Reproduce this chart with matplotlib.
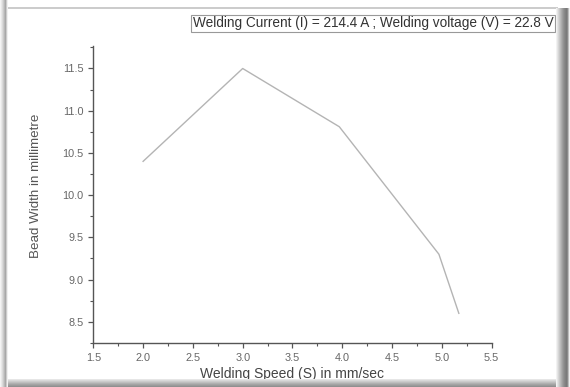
import numpy as np
import matplotlib.pyplot as plt
from matplotlib.patches import Rectangle
from matplotlib.ticker import MultipleLocator

# data
speed = [2.0, 3.0, 3.97, 4.97, 5.17]
bead_width = [10.4, 11.5, 10.81, 9.3, 8.6]
x_ticks = [1.5, 2.0, 2.5, 3.0, 3.5, 4.0, 4.5, 5.0, 5.5]
y_ticks = [8.5, 9.0, 9.5, 10.0, 10.5, 11.0, 11.5]
note = "Welding Current (I) = 214.4 A ; Welding voltage (V) = 22.8 V"

W, H = 570, 387
plt.rcParams['font.family'] = ['Liberation Sans', 'DejaVu Sans']

fig = plt.figure(figsize=(W / 100, H / 100), dpi=100)
fig.patch.set_facecolor('white')

ax = fig.add_axes([93.3 / W, 1 - 343.3 / H, (491.7 - 93.3) / W, (343.3 - 45.7) / H])
ax.plot(speed, bead_width, color='#b4b4b4', lw=1.0)

ax.set_xlim(1.5, 5.5)
ax.set_ylim(8.245, 11.77)
ax.set_xticks(x_ticks)
ax.set_yticks(y_ticks)
ax.xaxis.set_minor_locator(MultipleLocator(0.25))
ax.yaxis.set_minor_locator(MultipleLocator(0.25))
ax.set_xticklabels([f'{v:.1f}' for v in x_ticks])
ax.set_yticklabels([f'{v:.1f}' for v in y_ticks])

for side in ['top', 'right']:
    ax.spines[side].set_visible(False)
for side in ['left', 'bottom']:
    ax.spines[side].set_color('#555555')
    ax.spines[side].set_linewidth(1.0)
ax.tick_params(which='major', direction='out', length=3.5, width=0.9,
               colors='#555555', labelsize=7.8, labelcolor='#666666', pad=3.5)
ax.tick_params(which='minor', direction='out', length=2, width=0.8, colors='#555555')

ax.set_xlabel('Welding Speed (S) in mm/sec', fontsize=10, color='#444444', labelpad=3)
ax.set_ylabel('Bead Width in millimetre', fontsize=9.6, color='#555555')
ax.yaxis.set_label_coords(-0.128, 0.53)

# annotation box at the top
fig.text(193 / W, 1 - 23.5 / H, note, fontsize=9.8, color='#333333', va='center', ha='left',
         zorder=5,
         bbox=dict(boxstyle='square,pad=0.12', facecolor='white', edgecolor='#999999', lw=0.8))

# frame around the picture: left edge, top line, right and bottom shadow
def band(x0, y0, w, h, colors, vertical):
    n = len(colors)
    for i, c in enumerate(colors):
        if vertical:
            r = Rectangle(((x0 + i * w / n) / W, 1 - (y0 + h) / H), w / n / W, h / H)
        else:
            r = Rectangle((x0 / W, 1 - (y0 + (i + 1) * h / n) / H), w / W, h / n / H)
        r.set_facecolor(c)
        r.set_edgecolor('none')
        r.set_transform(fig.transFigure)
        r.set_zorder(10)
        fig.add_artist(r)

band(0, 0, 8, H, ['#f4f4f4', '#e8e8e8', '#dadada', '#cacaca', '#b8b8b8', '#a8a8a8', '#cccccc', '#f0f0f0'], True)
band(8, 7, 550, 1.5, ['#cccccc'], False)
band(8, 379, 552, 8, ['#e6e6e6', '#d8d8d8', '#cbcbcb', '#bebebe', '#b0b0b0', '#a4a4a4', '#9a9a9a', '#909090'], False)
band(556, 8, 14, H - 8, ['#f2f2f2', '#e4e4e4', '#d6d6d6', '#c8c8c8', '#bababa', '#acacac', '#9e9e9e',
                        '#929292', '#888888', '#808080', '#7a7a7a', '#8a8a8a', '#bcbcbc', '#eeeeee'], True)

fig.savefig('out.png', dpi=100)
